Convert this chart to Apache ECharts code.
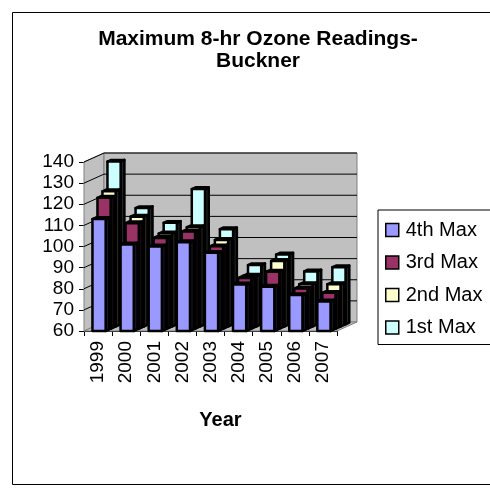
<!DOCTYPE html>
<html>
<head>
<meta charset="utf-8">
<script src="https://cdn.jsdelivr.net/npm/echarts@6/dist/echarts.min.js"></script>
<style>
html,body{margin:0;padding:0;background:#fff;}
#chart{width:490px;height:496px;}
</style>
</head>
<body>
<div id="chart"></div>
<script>
var years = ['1999','2000','2001','2002','2003','2004','2005','2006','2007'];
var max4th = [113, 101, 100, 102, 97, 82, 81, 77, 74];
var max3rd = [122, 110, 103, 106, 99, 84, 87, 79, 77];
var max2nd = [124, 112, 104, 107, 101, 84, 91, 80, 80];
var max1st = [137, 115, 108, 124, 105, 88, 93, 85, 87];
var seriesNames = ['4th Max', '3rd Max', '2nd Max', '1st Max'];
var seriesColors = ['#9999FF', '#993366', '#FFFFCC', '#CCFFFF'];
var yTicks = [60, 70, 80, 90, 100, 110, 120, 130, 140];

var FONT = '"Liberation Sans", Arial, sans-serif';
var DX = 20, DY = -9; // depth of the 3D box
var yMin = yTicks[0], yMax = yTicks[yTicks.length - 1];

function wallsRender(params, api) {
  var cs = params.coordSys;
  var gx = cs.x, gy = cs.y, gw = cs.width, gh = cs.height;
  var children = [];
  children.push({type:'polygon', shape:{points:[[gx,gy],[gx+DX,gy+DY],[gx+DX,gy+gh+DY],[gx,gy+gh]]},
    style:{fill:'#c0c0c0', stroke:'#808080', lineWidth:1}});
  children.push({type:'rect', shape:{x:gx+DX, y:gy+DY, width:gw, height:gh},
    style:{fill:'#c0c0c0', stroke:'#808080', lineWidth:1}});
  children.push({type:'polygon', shape:{points:[[gx,gy+gh],[gx+gw,gy+gh],[gx+gw+DX,gy+gh+DY],[gx+DX,gy+gh+DY]]},
    style:{fill:'#c0c0c0', stroke:'#808080', lineWidth:1}});
  yTicks.forEach(function(v){
    if (v === yMin) return;
    var y = api.coord([0, v])[1];
    children.push({type:'line', shape:{x1:gx+DX, y1:y+DY, x2:gx+gw+DX, y2:y+DY}, style:{stroke:'#000', lineWidth:1}});
    children.push({type:'line', shape:{x1:gx, y1:y, x2:gx+DX, y2:y+DY}, style:{stroke:'#000', lineWidth:1}});
  });
  return {type:'group', children:children};
}

function shade(hex, f) {
  var n = parseInt(hex.slice(1), 16);
  var r = Math.round(((n >> 16) & 255) * f), g = Math.round(((n >> 8) & 255) * f), b = Math.round((n & 255) * f);
  return 'rgb(' + r + ',' + g + ',' + b + ')';
}

function makeBarRender(k, color) {
  return function(params, api) {
    var cat = api.value(0), val = api.value(1);
    var pb = api.coord([cat, yMin]);
    var pt = api.coord([cat, val]);
    var band = api.size([1, 0])[0];
    var w = band * 0.47;
    var ox = k * DX / 4, oy = k * DY / 4;
    var ddx = DX / 4 * 0.75, ddy = DY / 4 * 0.75;
    var x0 = pb[0] - w / 2 + 1 + ox, x1 = x0 + w;
    var yb = pb[1] + oy, yt = pt[1] + oy;
    var stroke = {stroke:'#000', lineWidth:2.5, lineJoin:'round'};
    return {type:'group', children:[
      {type:'polygon', shape:{points:[[x1,yt],[x1+ddx,yt+ddy],[x1+ddx,yb+ddy],[x1,yb]]},
        style:Object.assign({fill:shade(color,0.15)}, stroke)},
      {type:'polygon', shape:{points:[[x0,yt],[x1,yt],[x1+ddx,yt+ddy],[x0+ddx,yt+ddy]]},
        style:Object.assign({fill:shade(color,0.4)}, stroke)},
      {type:'rect', shape:{x:x0, y:yt, width:w, height:yb-yt},
        style:Object.assign({fill:color}, stroke)}
    ]};
  };
}

var seriesData = [max4th, max3rd, max2nd, max1st];
var series = [{
  type:'custom', name:'walls', silent:true, z:1,
  renderItem: wallsRender, data:[[0, yMin]], encode:{x:0, y:1}
}];
for (var k = 3; k >= 0; k--) {
  series.push({
    type:'custom', name:seriesNames[k], z:2 + (3 - k),
    itemStyle:{color:seriesColors[k]},
    renderItem: makeBarRender(k, seriesColors[k]),
    data: seriesData[k].map(function(v, i){ return [i, v]; }),
    encode:{x:0, y:1}
  });
}

var chart = echarts.init(document.getElementById('chart'), null, {renderer:'canvas'});
chart.setOption({
  backgroundColor:'#fff',
  animation:false,
  title:{
    text:'Maximum 8-hr Ozone Readings-\nBuckner',
    left:253, top:23, textAlign:'center',
    textStyle:{fontFamily:FONT, fontSize:21, fontWeight:'bold', color:'#000', lineHeight:22}
  },
  legend:{
    data:seriesNames, orient:'vertical', left:378, top:210,
    icon:'rect', itemWidth:13, itemHeight:13, itemGap:12.5,
    padding:[10,14,7,7],
    borderColor:'#000', borderWidth:1,
    itemStyle:{borderColor:'#000', borderWidth:1.5},
    textStyle:{fontFamily:FONT, fontSize:20, color:'#000', lineHeight:20, padding:[0,0,0,2]}
  },
  grid:{left:84, top:162, width:253, height:169},
  xAxis:{
    type:'category', data:years,
    axisLine:{lineStyle:{color:'#000'}},
    axisTick:{show:true, length:5, lineStyle:{color:'#000'}},
    axisLabel:{rotate:90, margin:10, fontFamily:FONT, fontSize:19, color:'#000'},
    name:'Year', nameLocation:'middle', nameGap:79,
    nameTextStyle:{fontFamily:FONT, fontSize:20, fontWeight:'bold', color:'#000', padding:[0,0,0,20]}
  },
  yAxis:{
    type:'value', min:yMin, max:yMax, interval:10,
    axisLine:{show:true, lineStyle:{color:'#000'}},
    axisTick:{show:true, length:5, lineStyle:{color:'#000'}},
    splitLine:{show:false},
    axisLabel:{margin:10, fontFamily:FONT, fontSize:19, color:'#000'}
  },
  graphic:[{
    type:'rect', z:100, silent:true,
    shape:{x:12.5, y:12.5, width:500, height:472},
    style:{fill:'none', stroke:'#000', lineWidth:1}
  }],
  series:series
});
</script>
</body>
</html>
